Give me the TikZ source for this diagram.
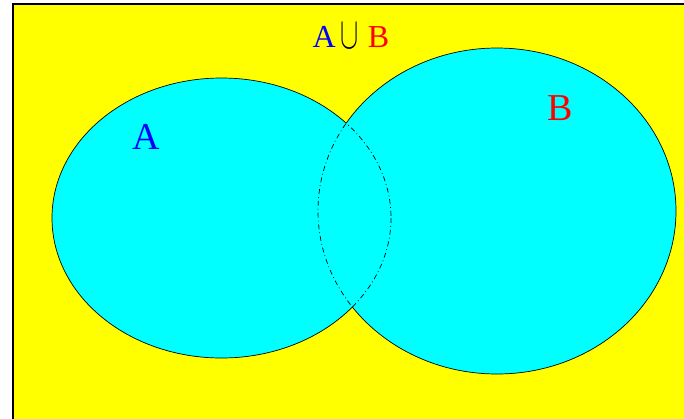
\RequirePackage{fix-cm}
\documentclass[tikz,border=0pt]{standalone}
\usepackage{fontspec}
\setmainfont{Liberation Serif}
\usepackage{graphicx}
\usepackage{tikz}

\definecolor{setcyan}{RGB}{0,255,255}
\definecolor{uniyellow}{RGB}{255,255,0}
\newcommand{\ellA}{(221.5,218) ellipse [x radius=169.5, y radius=140]}
\newcommand{\ellB}{(497,211) ellipse [x radius=179, y radius=163]}

\begin{document}
\begin{tikzpicture}[x=1pt, y=-1pt,
  universe/.style={draw=black, fill=uniyellow, line width=1.2pt},
  setfill/.style={fill=setcyan},
  rim/.style={draw=black, line width=0.7pt},
  innerrim/.style={rim, dash pattern=on 5pt off 3pt on 0.8pt off 3pt},
  setlabel/.style={font=\fontsize{38}{44}\selectfont, inner sep=0pt},
  titlelabel/.style={font=\fontsize{32}{38}\selectfont, inner sep=0pt}]
\useasboundingbox (0,0) rectangle (684,418);
\clip (0,0) rectangle (684,418);
% universe
\draw[universe] (13,4) rectangle (720,450);
% the two sets
\fill[setfill] \ellA;
\fill[setfill] \ellB;
% outer arcs, solid
\begin{scope}[even odd rule]
  \clip (0,0) rectangle (684,418) \ellB;
  \draw[rim] \ellA;
\end{scope}
\begin{scope}[even odd rule]
  \clip (0,0) rectangle (684,418) \ellA;
  \draw[rim] \ellB;
\end{scope}
% inner arcs, dash dot
\begin{scope}
  \clip \ellB;
  \draw[innerrim] \ellA;
\end{scope}
\begin{scope}
  \clip \ellA;
  \draw[innerrim] \ellB;
\end{scope}
% labels
\node[setlabel, text=blue] (labA) at (146,137) {A};
\node[setlabel, text=red] (labB) at (560,108) {B};
\node[titlelabel] (union) at (351,36) {{\color{blue}A}\hspace{5pt}\raisebox{-1pt}{\scalebox{0.85}[1.4]{$\cup$}}\hspace{9pt}{\color{red}B}};
\end{tikzpicture}
\end{document}
